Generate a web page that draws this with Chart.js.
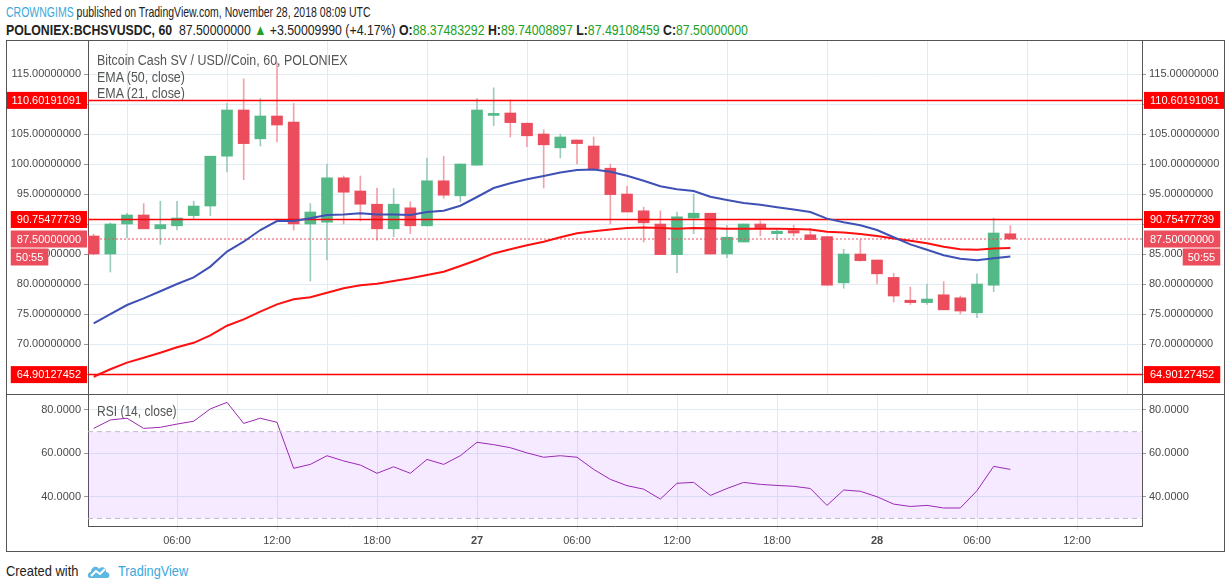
<!DOCTYPE html>
<html>
<head>
<meta charset="utf-8">
<script src="https://cdn.jsdelivr.net/npm/chart.js@4.4.0/dist/chart.umd.min.js"></script>
<style>
  body { margin: 0; width: 1232px; height: 588px; background: #fff; position: relative; overflow: hidden;
         font-family: "Liberation Sans", Arial, sans-serif; color: #222; }
  .abs { position: absolute; white-space: nowrap; transform-origin: 0 0; }
  #hdr1 { left: 6px; top: 3px; font-size: 15px; transform: scaleX(0.70); }
  #hdr1 .user { color: #3aa8dc; }
  #hdr2 { left: 6px; top: 21px; font-size: 15px; transform: scaleX(0.82); }
  #hdr2 .g { color: #22a022; }
  #frame { left: 6px; top: 40px; width: 1219px; height: 512px; border: 1px solid #555; box-sizing: border-box; }
  #sep { left: 6px; top: 394px; width: 1219px; height: 1px; background: #555; }
  #legend { left: 97px; top: 52px; font-size: 14px; color: #555; line-height: 16.5px; transform: scaleX(0.89); }
  #rsiLegend { left: 97px; top: 403px; font-size: 14px; color: #555; transform: scaleX(0.86); }
  #made { left: 6px; top: 562px; font-size: 15px; color: #222; transform: scaleX(0.86); }
  #logo { left: 87px; top: 563px; }
  #tv { left: 118px; top: 562px; font-size: 15px; color: #3aa8dc; transform: scaleX(0.85); }
  canvas { position: absolute; }
</style>
</head>
<body>
<div id="hdr1" class="abs"><span class="user">CROWNGIMS</span> published on TradingView.com, November 28, 2018 08:09 UTC</div>
<div id="hdr2" class="abs"><b>POLONIEX:BCHSVUSDC, 60</b>&nbsp; 87.50000000 <span class="g">&#9650;</span> +3.50009990 (+4.17%) <b>O:</b><span class="g">88.37483292</span> <b>H:</b><span class="g">89.74008897</span> <b>L:</b><span class="g">87.49108459</span> <b>C:</b><span class="g">87.50000000</span></div>
<div id="frame" class="abs"></div>
<div id="sep" class="abs"></div>
<canvas id="main" width="1217" height="353" style="left:7px;top:41px"></canvas>
<canvas id="rsi" width="1217" height="156" style="left:7px;top:395px"></canvas>
<div id="legend" class="abs">Bitcoin Cash SV / USD//Coin, 60, POLONIEX<br>EMA (50, close)<br>EMA (21, close)</div>
<div id="rsiLegend" class="abs">RSI (14, close)</div>
<div id="made" class="abs">Created with</div>
<svg id="logo" class="abs" width="24" height="16" viewBox="0 0 24 16"><path d="M3 15 C0 15 0 9 4 9 C4 4 10 2 12 6 C14 3 20 4 19 9 C23 9 24 15 20 15 Z" fill="#5cb8e0"/><path d="M4 13 L9 8 L13 11 L18 6" stroke="#fff" stroke-width="2" fill="none"/></svg>
<div id="tv" class="abs">TradingView</div>

<script>
const FONT = '"Liberation Sans", Arial, sans-serif';

// hourly candles, Nov 26 01:00 .. Nov 28 08:00 (UTC)
const candleOpen  = [88.0, 85.0, 90.0, 91.5, 89.2, 89.7, 91.4, 93.0, 101.3, 109.0, 104.2, 108.0, 107.0, 90.0, 90.3, 97.7, 95.5, 93.3, 89.2, 92.7, 89.7, 97.2, 94.7, 99.8, 108.1, 108.5, 106.8, 105.0, 102.7, 104.0, 103.0, 99.3, 95.0, 92.2, 90.0, 84.9, 91.0, 91.8, 85.0, 87.0, 90.0, 88.4, 88.9, 88.2, 87.9, 80.2, 85.0, 84.0, 81.1, 77.3, 76.9, 78.2, 77.7, 75.2, 79.8, 88.37];
const candleHigh  = [88.3, 90.2, 91.8, 93.4, 93.8, 93.8, 93.8, 101.3, 110.1, 114.2, 110.9, 117.0, 110.1, 93.4, 100.0, 98.0, 98.0, 96.0, 95.9, 93.7, 101.0, 101.3, 100.0, 110.9, 112.7, 110.7, 106.8, 105.7, 105.0, 104.0, 104.5, 100.0, 96.3, 92.8, 92.2, 92.0, 95.0, 91.8, 89.8, 90.0, 90.5, 89.3, 89.8, 89.3, 87.9, 85.8, 87.4, 84.0, 81.8, 79.5, 80.0, 80.4, 78.0, 81.7, 91.0, 89.74];
const candleLow   = [84.9, 82.0, 87.7, 89.2, 86.6, 89.0, 90.8, 91.4, 98.7, 97.4, 103.0, 103.7, 89.0, 80.5, 84.0, 90.0, 90.5, 87.3, 87.9, 88.4, 89.7, 94.3, 93.7, 99.8, 106.4, 104.5, 102.9, 96.0, 101.0, 100.0, 99.2, 90.0, 92.0, 87.0, 84.9, 81.9, 88.4, 85.0, 84.4, 87.0, 88.0, 87.4, 88.0, 87.4, 79.8, 79.3, 83.8, 80.0, 77.0, 76.6, 76.6, 75.7, 75.0, 74.4, 78.7, 87.49];
const candleClose = [85.0, 90.0, 91.5, 89.2, 89.9, 91.0, 93.0, 101.3, 109.0, 103.4, 108.0, 106.5, 90.0, 92.0, 97.7, 95.3, 93.3, 89.2, 93.3, 89.7, 97.2, 94.8, 100.0, 109.0, 108.4, 106.9, 104.7, 103.2, 104.5, 103.4, 99.2, 94.9, 92.0, 90.2, 84.9, 91.2, 91.8, 85.0, 87.8, 90.0, 89.2, 88.8, 88.5, 87.4, 79.8, 85.0, 83.9, 81.7, 78.0, 76.9, 77.5, 75.7, 75.5, 80.0, 88.5, 87.5];

const emaFast = [73.45, 75.0, 76.5, 77.6, 78.8, 80.0, 81.1, 82.9, 85.4, 87.05, 89.0, 90.5, 90.5, 90.95, 91.5, 91.6, 91.8, 91.6, 91.6, 91.5, 92.0, 92.2, 93.05, 94.5, 96.0, 96.8, 97.45, 98.0, 98.6, 99.0, 99.1, 98.7, 98.05, 97.2, 96.3, 95.8, 95.5, 94.55, 94.0, 93.5, 93.2, 92.8, 92.4, 92.0, 90.9, 90.3, 89.8, 89.0, 87.8, 86.6, 85.7, 84.8, 84.2, 83.95, 84.3, 84.6];
const emaSlow = [64.55, 65.8, 66.9, 67.7, 68.55, 69.45, 70.2, 71.45, 73.05, 74.1, 75.4, 76.6, 77.45, 77.8, 78.55, 79.3, 79.8, 80.05, 80.5, 80.95, 81.5, 82.05, 83.0, 84.0, 85.1, 85.8, 86.45, 87.05, 87.8, 88.45, 88.8, 89.1, 89.33, 89.4, 89.33, 89.2, 89.33, 89.3, 89.2, 89.2, 89.2, 89.2, 89.15, 89.1, 88.7, 88.6, 88.35, 88.0, 87.6, 87.2, 86.8, 86.2, 85.8, 85.7, 85.9, 86.0];
const rsi14 = [71.5, 75.4, 76.2, 71.5, 72.0, 73.5, 74.8, 80.5, 83.5, 73.8, 76.2, 74.3, 53.1, 54.9, 58.9, 56.5, 54.6, 50.8, 53.8, 50.8, 57.2, 54.9, 58.9, 65.1, 64.0, 62.6, 60.2, 58.2, 58.9, 58.2, 52.6, 48.0, 45.1, 43.5, 38.9, 46.2, 46.6, 40.6, 43.8, 46.6, 45.7, 45.2, 44.8, 43.8, 36.0, 43.1, 42.5, 40.0, 36.6, 35.5, 36.0, 34.8, 34.8, 42.8, 54.0, 52.6];

const levels = [110.60191091, 90.75477739, 64.90127452];
const lastPrice = 87.5;
const countdown = '50:55';
const priceTicks = [65, 70, 75, 80, 85, 90, 95, 100, 105, 110, 115];
const rsiTicks = [40, 60, 80];
const rsiBand = [30, 70];
const timeTicks = [6, 12, 18, 24, 30, 36, 42, 48, 54, 60];
const timeLabels = ['06:00', '12:00', '18:00', '27', '06:00', '12:00', '18:00', '28', '06:00', '12:00'];

const xMin = 0.66, xMax = 63.9;
const GREEN = '#53b987', RED = '#eb4d5c';
const GRID = '#e1ecf2';

const xs = candleOpen.map((_, i) => i + 1);
const up = candleOpen.map((o, i) => candleClose[i] >= o);
const pts = arr => arr.map((v, i) => ({ x: xs[i], y: v }));
const hline = v => [{ x: xMin, y: v }, { x: xMax, y: v }];

function fixedTicks(list) {
  return s => { s.ticks = list.map(v => ({ value: v })); };
}
// fixed axis width, and no extra room for half labels at the ends
function fitY(w) {
  return s => { s.width = w; s.paddingTop = 0; s.paddingBottom = 0; };
}

const priceTags = {
  id: 'priceTags',
  afterDraw(chart) {
    const { ctx, chartArea } = chart;
    const y = chart.scales.y;
    ctx.save();
    ctx.font = '11px ' + FONT;
    ctx.textBaseline = 'middle';
    const box = (x, yc, w, color, text) => {
      ctx.fillStyle = color;
      ctx.fillRect(x, yc - 8.5, w, 17);
      ctx.fillStyle = '#fff';
      ctx.textAlign = 'center';
      ctx.fillText(text, x + w / 2, yc + 0.5);
    };
    const tag = (v, color, withTimer) => {
      const text = v.toFixed(8);
      const w = ctx.measureText(text).width + 12;
      const yc = y.getPixelForValue(v);
      const lx = chartArea.left - 1 - w;
      const rx = chartArea.right + 2;
      box(lx, yc, w, color, text);
      box(rx, yc, w, color, text);
      if (withTimer) {
        const tw = ctx.measureText(countdown).width + 10;
        box(lx, yc + 18, tw, color, countdown);
        box(rx + w - tw, yc + 18, tw, color, countdown);
      }
    };
    levels.forEach(v => tag(v, '#ff0000', false));
    tag(lastPrice, RED, true);
    ctx.restore();
  }
};

new Chart(document.getElementById('main'), {
  type: 'bar',
  data: {
    datasets: [
      { type: 'line', data: pts(emaFast), borderColor: '#3f51b5', borderWidth: 2, pointRadius: 0, order: 0 },
      { type: 'line', data: pts(emaSlow), borderColor: '#ff1010', borderWidth: 2, pointRadius: 0, order: 1 },
      ...levels.map(v => ({ type: 'line', data: hline(v), borderColor: '#ff0000', borderWidth: 1.5, pointRadius: 0, order: 2 })),
      { type: 'line', data: hline(lastPrice), borderColor: RED, borderWidth: 1, borderDash: [2, 2], pointRadius: 0, order: 2 },
      { data: xs.map((x, i) => ({ x, y: [candleOpen[i], candleClose[i]] })),
        backgroundColor: up.map(u => u ? GREEN : RED), barThickness: 11, minBarLength: 2, grouped: false, order: 3 },
      { data: xs.map((x, i) => ({ x, y: [candleLow[i], candleHigh[i]] })),
        backgroundColor: up.map(u => u ? '#9ccbc2' : '#f3a0a9'), barThickness: 1, grouped: false, order: 4 }
    ]
  },
  options: {
    responsive: false,
    animation: false,
    layout: { padding: 0 },
    plugins: { legend: { display: false }, tooltip: { enabled: false } },
    scales: {
      x: {
        type: 'linear', min: xMin, max: xMax, offset: false,
        afterBuildTicks: fixedTicks(timeTicks),
        afterFit: s => { s.height = 0; s.paddingLeft = 0; s.paddingRight = 0; },
        ticks: { display: false },
        grid: { color: GRID, drawTicks: false },
        border: { display: false }
      },
      y: {
        type: 'linear', position: 'left', min: 61.67, max: 120.5,
        afterBuildTicks: fixedTicks(priceTicks),
        afterFit: fitY(81),
        ticks: { callback: v => v.toFixed(8), color: '#4a4a4a', font: { size: 11, family: FONT }, padding: 3 },
        grid: { color: GRID, tickLength: 4, tickColor: '#999' },
        border: { color: '#555' }
      },
      y2: {
        type: 'linear', position: 'right', min: 61.67, max: 120.5,
        afterBuildTicks: fixedTicks(priceTicks),
        afterFit: fitY(82),
        ticks: { callback: v => v.toFixed(8), color: '#4a4a4a', font: { size: 11, family: FONT }, padding: 3 },
        grid: { drawOnChartArea: false, tickLength: 4, tickColor: '#999' },
        border: { color: '#555' }
      }
    }
  },
  plugins: [priceTags]
});

new Chart(document.getElementById('rsi'), {
  type: 'line',
  data: {
    datasets: [
      { data: hline(rsiBand[0]), borderColor: '#c4b6cc', borderWidth: 1, borderDash: [5, 4], pointRadius: 0, fill: false },
      { data: hline(rsiBand[1]), borderColor: '#c4b6cc', borderWidth: 1, borderDash: [5, 4], pointRadius: 0,
        fill: '-1', backgroundColor: 'rgba(153, 51, 255, 0.1)' },
      { data: pts(rsi14), borderColor: '#9c27b0', borderWidth: 1, pointRadius: 0, fill: false }
    ]
  },
  options: {
    responsive: false,
    animation: false,
    layout: { padding: 0 },
    plugins: { legend: { display: false }, tooltip: { enabled: false } },
    scales: {
      x: {
        type: 'linear', min: xMin, max: xMax, offset: false,
        afterBuildTicks: fixedTicks(timeTicks),
        afterFit: s => { s.height = 25; s.paddingLeft = 0; s.paddingRight = 0; },
        ticks: {
          callback: v => timeLabels[timeTicks.indexOf(v)],
          color: '#4a4a4a', maxRotation: 0, padding: 4,
          font: c => ({ size: 11, family: FONT, weight: (c.tick && (c.tick.value === 24 || c.tick.value === 48)) ? 'bold' : 'normal' })
        },
        grid: { color: GRID, tickLength: 4 },
        border: { color: '#555' }
      },
      y: {
        type: 'linear', position: 'left', min: 26.5, max: 86.9,
        afterBuildTicks: fixedTicks(rsiTicks),
        afterFit: fitY(81),
        ticks: { callback: v => v.toFixed(4), color: '#4a4a4a', font: { size: 11, family: FONT }, padding: 3 },
        grid: { color: GRID, tickLength: 4, tickColor: '#999' },
        border: { color: '#555' }
      },
      y2: {
        type: 'linear', position: 'right', min: 26.5, max: 86.9,
        afterBuildTicks: fixedTicks(rsiTicks),
        afterFit: fitY(82),
        ticks: { callback: v => v.toFixed(4), color: '#4a4a4a', font: { size: 11, family: FONT }, padding: 3 },
        grid: { drawOnChartArea: false, tickLength: 4, tickColor: '#999' },
        border: { color: '#555' }
      }
    }
  }
});
</script>
</body>
</html>
